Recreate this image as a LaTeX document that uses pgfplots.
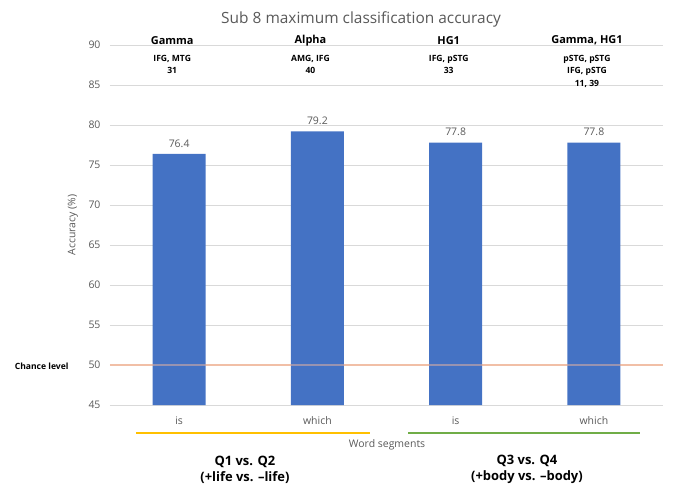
\documentclass[border=0pt]{standalone}
\usepackage{pgfplots}
\pgfplotsset{compat=1.18}
\usepackage{fontspec}
\setmainfont{Open Sans}
\definecolor{barblue}{HTML}{4472C4}
\definecolor{gridgray}{HTML}{D9D9D9}
\definecolor{txtgray}{HTML}{595959}
\definecolor{chance}{HTML}{F8CBAD}
\definecolor{yel}{HTML}{FFC000}
\definecolor{grn}{HTML}{70AD47}
\begin{document}
\begin{tikzpicture}
\useasboundingbox (-110bp,-84bp) rectangle (569bp,405bp);
\begin{axis}[
  at={(0,0)}, anchor=south west,
  scale only axis, width=553bp, height=360bp,
  xmin=-0.5, xmax=3.5, ymin=45, ymax=90,
  ytick={45,50,...,90},
  xtick={0,1,2,3}, xticklabels={is,which,is,which},
  axis line style={draw=none},
  tick style={draw=none},
  ymajorgrids, grid style={gridgray, line width=0.8pt},
  /pgf/number format/assume math mode=true,
  yticklabel style={font=\fontsize{10.5}{13}\selectfont, text=txtgray, xshift=-6bp},
  xticklabel style={font=\fontsize{10.5}{13}\selectfont, text=txtgray, yshift=-4bp},
  clip=false,
  ybar, bar width=53bp,
  every node near coord/.append style={font=\fontsize{10.5}{13}\selectfont, text=txtgray, yshift=3bp, /pgf/number format/fixed, /pgf/number format/precision=1, /pgf/number format/assume math mode=true},
]
\addplot[sharp plot, chance, line width=1.2pt, forget plot] coordinates {(-0.5,50) (3.5,50)};
\addplot[fill=barblue, draw=none, nodes near coords] coordinates {(0,76.4) (1,79.2) (2,77.8) (3,77.8)};
\addplot[sharp plot, color={rgb,255:red,236;green,180;blue,160}, line width=1.2pt, opacity=0.5, forget plot] coordinates {(-0.5,50) (3.5,50)};
% title
\node[font=\fontsize{15.5}{19}\selectfont, text=txtgray] at (axis cs:1.316,93.2) {Sub 8 maximum classification accuracy};
% top annotations
\node[font=\bfseries\fontsize{11}{13}\selectfont] at (axis cs:-0.05,90.6) {Gamma};
\node[font=\bfseries\fontsize{11}{13}\selectfont] at (axis cs:0.95,90.6) {Alpha};
\node[font=\bfseries\fontsize{11}{13}\selectfont] at (axis cs:1.95,90.6) {HG1};
\node[font=\bfseries\fontsize{11}{13}\selectfont] at (axis cs:2.95,90.6) {Gamma, HG1};
\node[font=\bfseries\fontsize{8.6}{12.5}\selectfont, align=center, anchor=north] at (axis cs:-0.05,89.2) {IFG, MTG\\31};
\node[font=\bfseries\fontsize{8.6}{12.5}\selectfont, align=center, anchor=north] at (axis cs:0.95,89.2) {AMG, IFG\\40};
\node[font=\bfseries\fontsize{8.6}{12.5}\selectfont, align=center, anchor=north] at (axis cs:1.95,89.2) {IFG, pSTG\\33};
\node[font=\bfseries\fontsize{8.6}{12.5}\selectfont, align=center, anchor=north] at (axis cs:2.95,89.2) {pSTG, pSTG\\IFG, pSTG\\11, 39};
% chance label
\node[font=\bfseries\fontsize{8.6}{10}\selectfont, anchor=east] at (axis cs:-0.775,49.9) {Chance level};
% y label
\node[font=\fontsize{10.5}{13}\selectfont, text=txtgray, rotate=90] at (axis cs:-0.768,67.5) {Accuracy (\%)};
% bottom lines
\draw[yel, line width=2.2pt] (axis cs:-0.312,41.5) -- (axis cs:1.381,41.5);
\draw[grn, line width=2.2pt] (axis cs:1.656,41.5) -- (axis cs:3.334,41.5);
\node[font=\fontsize{10.5}{13}\selectfont, text=txtgray] at (axis cs:1.504,40.0) {Word segments};
\node[font=\bfseries\fontsize{13}{16}\selectfont, align=center] at (axis cs:0.476,36.9) {Q1 vs. Q2\\(+life vs. –life)};
\node[font=\bfseries\fontsize{13}{16}\selectfont, align=center] at (axis cs:2.516,36.9) {Q3 vs. Q4\\(+body vs. –body)};
\end{axis}
\end{tikzpicture}
\end{document}
